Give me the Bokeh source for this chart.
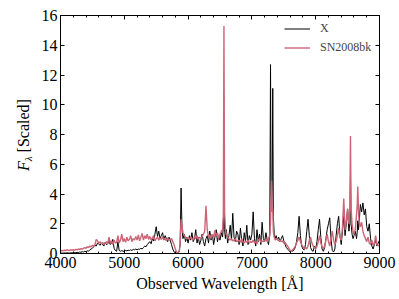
from bokeh.plotting import figure
from bokeh.layouts import row
from bokeh.models import Range1d, LinearAxis, SingleIntervalTicker, Div
from bokeh.embed import file_html
from bokeh.resources import INLINE

# ---- data ----
wavelength = [
    4000, 4020, 4040, 4060, 4080, 4100, 4120, 4140, 4160, 4180,
    4200, 4220, 4240, 4260, 4280, 4300, 4320, 4340, 4360, 4380,
    4400, 4420, 4440, 4460, 4480, 4500, 4520, 4540, 4560, 4580,
    4600, 4620, 4640, 4660, 4680, 4700, 4720, 4740, 4760, 4780,
    4800, 4820, 4840, 4860, 4880, 4900, 4920, 4940, 4960, 4980,
    5000, 5020, 5040, 5060, 5080, 5100, 5120, 5140, 5160, 5180,
    5200, 5220, 5240, 5260, 5280, 5300, 5320, 5340, 5360, 5380,
    5400, 5420, 5440, 5460, 5480, 5500, 5520, 5540, 5560, 5580,
    5600, 5620, 5640, 5660, 5680, 5700, 5720, 5740, 5760, 5780,
    5800, 5820, 5840, 5860, 5875, 5890, 5905, 5920, 5940, 5960, 5980,
    6000, 6020, 6040, 6060, 6080, 6100, 6120, 6140, 6160, 6180,
    6200, 6220, 6240, 6260, 6280, 6300, 6320, 6340, 6360, 6380,
    6400, 6420, 6440, 6460, 6480, 6500, 6520, 6540, 6552, 6562, 6572, 6585,
    6600, 6620, 6640, 6660, 6680, 6700, 6720, 6740, 6760, 6780,
    6800, 6820, 6840, 6860, 6880, 6900, 6920, 6940, 6960, 6980,
    7000, 7020, 7040, 7060, 7080, 7100, 7120, 7140, 7160, 7180,
    7200, 7220, 7240, 7260, 7280, 7292, 7300, 7308, 7318, 7327, 7336, 7350, 7365, 7380,
    7400, 7420, 7440, 7460, 7480, 7500, 7520, 7540, 7560, 7580,
    7600, 7620, 7640, 7660, 7680, 7700, 7720, 7740, 7760, 7780,
    7800, 7820, 7840, 7860, 7880, 7900, 7920, 7940, 7960, 7980,
    8000, 8020, 8040, 8060, 8080, 8100, 8120, 8140, 8160, 8180,
    8200, 8220, 8240, 8260, 8280, 8300, 8320, 8340, 8360, 8380,
    8400, 8420, 8440, 8460, 8480, 8500, 8520, 8535, 8545, 8555, 8570, 8585,
    8600, 8620, 8640, 8650, 8660, 8670, 8680, 8700, 8720, 8740, 8760, 8780,
    8800, 8820, 8840, 8860, 8880, 8900, 8920, 8940, 8960, 8980,
    9000,
]

flux_x = [
    0.02, 0.03, 0.02, 0.04, 0.03, 0.05, 0.04, 0.03, 0.05, 0.04,
    0.05, 0.06, 0.05, 0.08, 0.06, 0.1, 0.08, 0.12, 0.1, 0.15,
    0.12, 0.18, 0.15, 0.25, 0.3, 0.35, 0.45, 0.55, 0.5, 0.7,
    0.65, 0.55, 0.7, 0.6, 0.5, 0.75, 0.6, 0.65, 0.85, 0.6,
    0.7, 0.95, 0.35, 0.2, 0.15, 0.8, 0.2, 0.15, 0.2, 0.15,
    0.15, 0.2, 0.18, 0.22, 0.2, 0.25, 0.2, 0.28, 0.25, 0.3,
    0.25, 0.3, 0.28, 0.35, 0.3, 0.4, 0.5, 0.45, 0.6, 0.7,
    0.8, 0.65, 1.0, 0.85, 1.3, 1.8, 1.15, 1.5, 1.0, 1.2,
    1.4, 0.9, 1.2, 1.0, 0.8, 1.1, 0.9, 0.6, 0.3, 0.1,
    0.05, 0.02, 0.05, 0.15, 0.6, 4.4, 1.6, 1.0, 1.3, 0.8, 1.1,
    0.7, 1.2, 0.9, 1.4, 0.8, 1.0, 1.6, 0.7, 1.1, 0.6,
    0.9, 1.3, 0.8, 0.5, 1.0, 1.2, 0.7, 1.5, 0.9, 1.3,
    0.6, 1.1, 1.6, 0.8, 1.2, 0.9, 1.4, 1.1, 1.8, 4.8, 1.6, 1.0,
    1.6, 0.7, 1.2, 1.9, 0.9, 2.7, 1.1, 0.8, 1.5, 1.3,
    0.6, 1.7, 0.9, 0.5, 1.4, 0.8, 1.9, 0.6, 1.2, 0.9,
    1.3, 2.8, 1.0, 0.5, 1.6, 0.8, 1.3, 0.6, 2.1, 1.0,
    0.8, 1.4, 0.9, 0.6, 1.3, 12.7, 4.0, 3.0, 4.5, 11.1, 2.5, 1.3, 1.0, 1.2,
    0.9, 1.1, 0.8, 1.0, 1.2, 0.85, 0.6, 0.4, 0.3, 0.2,
    0.1, 0.2, 0.15, 0.25, 0.4, 0.8, 1.4, 2.5, 1.2, 0.5,
    0.3, 0.25, 0.6, 1.5, 2.3, 1.2, 0.4, 0.2, 0.15, 0.5,
    0.3, 0.8, 1.6, 2.3, 1.1, 0.3, 0.15, 0.4, 1.0, 1.6,
    2.0, 2.4, 1.0, 0.2, 0.1, 0.3, 1.2, 2.0, 2.5, 1.2,
    0.6, 1.5, 2.5, 1.2, 2.0, 3.0, 1.5, 2.0, 5.2, 2.0, 1.3, 1.0,
    1.2, 1.5, 1.0, 1.4, 2.2, 1.6, 2.0, 3.3, 2.8, 3.4, 2.6, 3.0,
    1.8, 1.5, 2.0, 1.0, 0.5, 0.3, 0.6, 0.9, 0.5, 0.7,
    0.9,
]

flux_sn2008bk = [
    0.15, 0.2, 0.18, 0.22, 0.2, 0.25, 0.22, 0.2, 0.25, 0.23,
    0.25, 0.22, 0.28, 0.25, 0.3, 0.28, 0.32, 0.3, 0.35, 0.4,
    0.35, 0.45, 0.4, 0.5, 0.45, 0.55, 0.5, 0.6, 0.95, 0.85,
    0.7, 0.8, 0.65, 0.75, 0.6, 0.7, 0.8, 0.65, 1.1, 0.7,
    0.85, 0.6, 0.9, 0.7, 0.75, 1.2, 0.7, 0.9, 1.3, 0.8,
    1.0, 0.75, 1.1, 0.85, 0.95, 1.2, 0.8, 1.0, 0.9, 1.15,
    0.9, 1.25, 0.85, 1.1, 1.35, 0.9, 1.2, 1.0, 1.3, 0.95,
    1.15, 0.9, 1.05, 1.2, 0.85, 1.0, 1.1, 0.9, 1.05, 0.95,
    1.1, 0.95, 1.0, 0.85, 1.05, 0.9, 0.95, 1.0, 0.8, 0.6,
    0.3, 0.1, 0.05, 0.1, 0.6, 2.3, 1.8, 1.4, 1.2, 1.1, 1.0,
    1.05, 0.95, 1.1, 1.0, 0.9, 1.15, 1.0, 1.2, 0.95, 1.1,
    1.0, 1.15, 1.3, 1.5, 3.2, 1.6, 1.1, 1.25, 1.0, 1.3,
    1.1, 1.55, 1.2, 1.4, 1.0, 1.3, 1.5, 1.6, 2.5, 15.3, 2.8, 1.6,
    1.3, 1.1, 1.0, 0.9, 1.0, 0.85, 0.9, 1.0, 0.8, 0.85,
    0.9, 0.75, 1.0, 0.8, 0.7, 0.85, 0.75, 0.9, 0.7, 0.8,
    0.75, 0.9, 0.7, 0.8, 0.65, 0.9, 1.0, 0.75, 0.85, 0.8,
    0.85, 0.95, 0.8, 1.0, 1.2, 2.0, 3.5, 4.9, 2.8, 3.0, 1.5, 1.1, 0.9, 1.0,
    0.95, 0.85, 0.9, 0.8, 0.85, 0.7, 0.75, 0.6, 0.5, 0.35,
    0.2, 0.15, 0.25, 0.35, 0.5, 0.7, 0.9, 1.1, 0.8, 0.6,
    0.45, 0.35, 0.4, 0.3, 0.5, 0.9, 1.1, 0.7, 0.5, 0.4,
    0.35, 0.5, 0.8, 1.2, 0.7, 0.45, 0.35, 0.5, 0.9, 1.3,
    0.8, 0.5, 1.0, 1.5, 0.9, 0.6, 0.8, 1.2, 1.7, 1.1,
    0.9, 1.8, 3.7, 1.6, 2.2, 3.0, 2.0, 3.0, 7.9, 3.0, 2.0, 1.5,
    1.3, 1.6, 2.6, 3.2, 4.5, 3.0, 2.2, 1.8, 2.1, 1.5, 1.2, 1.0,
    0.8, 1.1, 0.7, 0.6, 0.9, 0.55, 0.7, 1.2, 0.6, 0.5,
    0.6,
]

series_names = ["X", "SN2008bk"]
series_colors = ["black", "#cc6677"]
x_label = "Observed Wavelength [Å]"

assert len(wavelength) == len(flux_x) == len(flux_sn2008bk)

FONT = "Liberation Serif"
LEFT_W = 36

p = figure(width=399 - LEFT_W, height=299,
           x_range=Range1d(4000, 9000), y_range=Range1d(0, 16),
           output_backend="svg", toolbar_location=None,
           min_border_left=60 - LEFT_W, min_border_right=20,
           min_border_top=15, min_border_bottom=46)
p.grid.visible = False
p.outline_line_color = "black"
p.outline_line_width = 1

xt = SingleIntervalTicker(interval=1000, num_minor_ticks=5)
yt = SingleIntervalTicker(interval=2, num_minor_ticks=0)
p.xaxis.ticker = xt
p.yaxis.ticker = yt


def style_axis(ax, labels=True):
    ax.major_tick_in = 4
    ax.major_tick_out = 0
    ax.minor_tick_in = 2
    ax.minor_tick_out = 0
    ax.axis_line_color = "black"
    ax.major_tick_line_color = "black"
    ax.minor_tick_line_color = "black"
    ax.major_label_text_font = FONT
    if labels:
        ax.major_label_text_font_size = "16px"
        ax.major_label_text_color = "black"
        ax.major_label_standoff = 3
    else:
        ax.major_label_text_font_size = "0px"
        ax.major_label_text_color = None
        ax.major_label_standoff = 0


style_axis(p.xaxis[0])
style_axis(p.yaxis[0])
p.yaxis[0].minor_tick_line_color = None

xa = p.xaxis[0]
xa.axis_label = x_label
xa.axis_label_text_font = FONT
xa.axis_label_text_font_size = "16px"
xa.axis_label_text_font_style = "normal"
xa.axis_label_text_color = "black"
xa.axis_label_standoff = 4

top = LinearAxis(ticker=xt)
style_axis(top, labels=False)
p.add_layout(top, "above")
right = LinearAxis(ticker=yt)
style_axis(right, labels=False)
right.minor_tick_line_color = None
p.add_layout(right, "right")

p.line(wavelength, flux_x, line_color=series_colors[0], line_width=1,
       legend_label=series_names[0])
p.line(wavelength, flux_sn2008bk, line_color=series_colors[1], line_width=1.4,
       legend_label=series_names[1])

lg = p.legend[0]
lg.location = "top_right"
lg.border_line_color = None
lg.background_fill_alpha = 0
lg.label_text_font = FONT
lg.label_text_font_size = "12px"
lg.glyph_width = 26
lg.glyph_height = 19
lg.label_height = 19
lg.label_width = 55
lg.label_standoff = 10
lg.spacing = 0
lg.margin = 4
lg.padding = 4

# y-axis label (italic F with subscript lambda) as rotated HTML text
ylabel_html = (
    f'<div style="position:relative;width:{LEFT_W}px;height:299px;">'
    '<div style="position:absolute;left:25px;top:135px;'
    'transform:translate(-50%,-50%) rotate(-90deg);white-space:nowrap;'
    f'font-family:\'{FONT}\';font-size:16px;line-height:1;color:black;">'
    '<i>F</i><sub style="font-size:11px;vertical-align:-3px;line-height:1;"><i>λ</i></sub>'
    '&nbsp;[Scaled]</div></div>'
)
ylab = Div(text=ylabel_html, width=LEFT_W, height=299, margin=0)

layout = row(ylab, p, spacing=0)
open("out.html", "w").write(file_html(layout, INLINE))
